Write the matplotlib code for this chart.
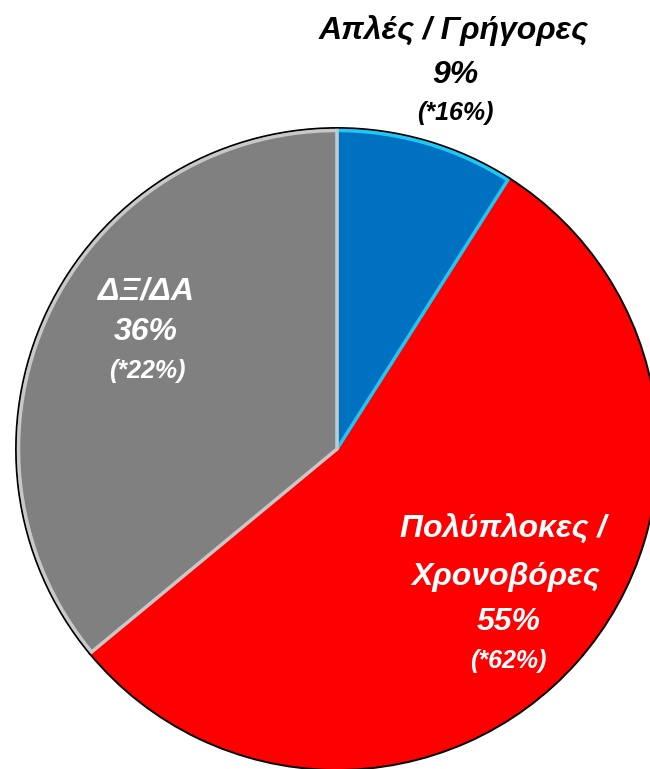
import matplotlib.pyplot as plt

plt.rcParams['font.family'] = ['Liberation Sans', 'DejaVu Sans']

# data
categorias = ['Απλές / Γρήγορες', 'Πολύπλοκες /\nΧρονοβόρες', 'ΔΞ/ΔΑ']
percentuais = [9, 55, 36]
comparacao = [16, 62, 22]
cores = ['#0070C0', '#FF0000', '#808080']
bordas = ['#1EC8F5', 'none', '#C8C8C8']

W, H = 650, 769
fig = plt.figure(figsize=(W / 100, H / 100), dpi=100)
ax = fig.add_axes([0, 0, 1, 1])

cx, cy, r = 337, H - 449, 321

# fatias com contorno preto
ax.pie(percentuais, colors=cores, startangle=90, counterclock=False,
       center=(cx, cy), radius=r, frame=True,
       wedgeprops=dict(edgecolor='black', linewidth=1.4))
# contorno interno colorido (efeito bisel)
wedges, _ = ax.pie(percentuais, colors=['none'] * 3, startangle=90, counterclock=False,
                   center=(cx, cy), radius=r - 2.5, frame=True,
                   wedgeprops=dict(linewidth=2.5))
for w, b in zip(wedges, bordas):
    w.set_edgecolor(b)
    w.set_facecolor('none')
ax.set_xlim(0, W)
ax.set_ylim(0, H)
ax.set_aspect('equal')
ax.axis('off')

estilo = dict(fontweight='bold', fontstyle='italic', ha='center', va='center')
grande, pequeno = 23, 18

# Απλές / Γρήγορες
ax.text(454, H - 31, categorias[0], fontsize=grande, color='black', **estilo)
ax.text(455, H - 75, f'{percentuais[0]}%', fontsize=grande, color='black', **estilo)
ax.text(455, H - 113, f'(*{comparacao[0]}%)', fontsize=pequeno, color='black', **estilo)

# ΔΞ/ΔΑ
ax.text(146, H - 292, categorias[2], fontsize=grande, color='white', **estilo)
ax.text(146, H - 332, f'{percentuais[2]}%', fontsize=grande, color='white', **estilo)
ax.text(147, H - 371, f'(*{comparacao[2]}%)', fontsize=pequeno, color='white', **estilo)

# Πολύπλοκες / Χρονοβόρες
l1, l2 = categorias[1].split('\n')
ax.text(503, H - 530, l1, fontsize=grande, color='white', **estilo)
ax.text(506, H - 577, l2, fontsize=grande, color='white', **estilo)
ax.text(509, H - 622, f'{percentuais[1]}%', fontsize=grande, color='white', **estilo)
ax.text(508, H - 661, f'(*{comparacao[1]}%)', fontsize=pequeno, color='white', **estilo)

fig.savefig('out.png', dpi=100, facecolor='white')
